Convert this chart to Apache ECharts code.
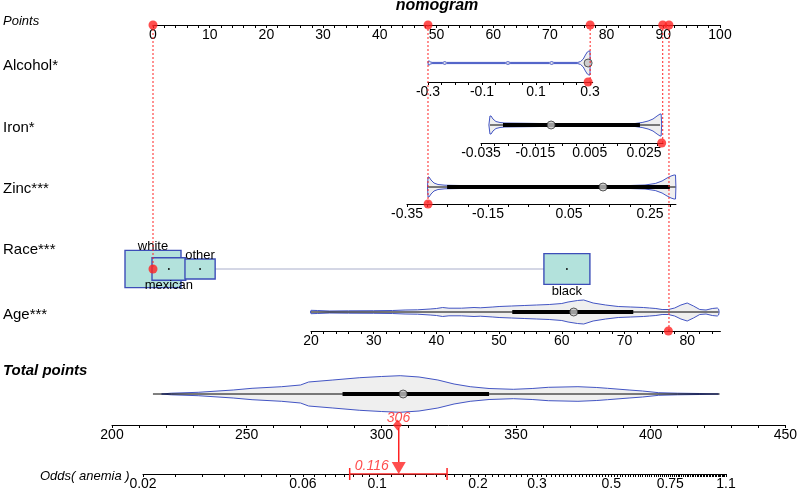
<!DOCTYPE html>
<html><head><meta charset="utf-8">
<script src="https://cdn.jsdelivr.net/npm/echarts@6/dist/echarts.min.js"></script>
<style>html,body{margin:0;padding:0;background:#fff}#c{width:800px;height:491px}</style>
</head><body><div id="c"></div>
<script>
// ================= DATA =================
const pointsLabels = [0,10,20,30,40,50,60,70,80,90,100];
const pointsTickStep = 2;
const alcoholLabels = [-0.3,-0.1,0.1,0.3];
const alcoholTickStep = 0.05;
const ironLabels = [-0.035,-0.015,0.005,0.025];
const ironTickStep = 0.005;
const zincLabels = [-0.35,-0.15,0.05,0.25];
const zincTickStep = 0.05;
const ageLabels = [20,30,40,50,60,70,80];
const ageTickStep = 2;
const totalLabels = [200,250,300,350,400,450];
const totalTickStep = 10;
const oddsLabels = [0.02,0.06,0.1,0.2,0.3,0.5,0.75,1.1];

// violin outlines: value and half-width (density)
const alcoholViolinX = [-0.300,-0.299,-0.296,-0.292,-0.285,-0.245,-0.238,-0.231,-0.012,-0.004,0.004,0.150,0.158,0.166,0.255,0.265,0.275,0.283,0.290,0.296,0.300,0.3005];
const alcoholViolinW = [0,2,2.2,1.2,0.6,0.6,1.4,0.6,0.6,1.4,0.6,0.6,1.4,0.6,0.6,1.5,4,8,11,12,12,0];
const alcoholBox = [0.293,0.293,0.293,0.293,0.293]; // min,q1,median,q3,max

const ironViolinX = [-0.0321,-0.0317,-0.0313,-0.0306,-0.0295,-0.0280,-0.0262,-0.0206,-0.0133,-0.0059,0.0014,0.0088,0.0162,0.0217,0.0243,0.0265,0.0283,0.0298,0.0309,0.0313,0.0315];
const ironViolinW = [0,9,9,6,3.5,2.5,2,1.8,1.5,1.5,1.3,1.3,1.3,1.5,2.5,4,6,9,11,11,0];
const ironBox = [-0.0317,-0.0269,-0.0092,0.0235,0.0309];

const zincViolinX = [-0.2994,-0.2981,-0.2957,-0.2907,-0.2833,-0.2735,-0.2562,-0.2191,-0.1204,0.0031,0.1265,0.2006,0.2377,0.2630,0.2798,0.2921,0.3020,0.3094,0.3130,0.3140];
const zincViolinW = [0,10,10,7,4,2.5,1.8,1.5,1.2,1.2,1.2,1.5,2,3.5,6,9,11,12,12,0];
const zincBox = [-0.298,-0.251,0.134,0.299,0.313];

const ageViolinX = [19.9,20,21,23,26,30,33,35,37,39,40,41,42,44,46,47,49,50,52,54,56,58,60,61,62.5,63.5,65,67,69,71,73,74,75,76,77,78,79,80,81,82,83,84,84.8,85,85.1];
const ageViolinW = [0,1.7,1.5,1,1.2,1.3,1.5,2,2.2,3,3.5,4.5,3.8,3.8,4.5,4.2,5,5.5,6,6.5,7,7.5,8.5,10,11.5,12,9,7,5.5,5,4.5,4,3.5,2.5,2.5,4,7,9,6,2.5,2,3.5,4,3,0];
const ageBox = [20,52.1,61.9,71.4,85];

const totalViolinX = [218.4,222,232,245,252,263,270,273,282,292,300,307,314,321,327,333,340,349,356,362,373,380,384,392,397,403,410,418,425.2];
const totalViolinW = [0,0.8,1.7,4,5.7,7.3,9,12,14,16.3,17.5,18.3,17,14,10,7.3,5.5,4.7,5.5,6.7,7.3,6.5,5.7,4,3,1.3,0.8,0.5,0];
const totalBox = [215.2,285.6,308.1,340,425.6];

const raceCategories = ['white','mexican','other','black'];
const racePoints = [0,2.8,8.3,73];
const raceShare = [0.43,0.156,0.125,0.29];

// selected observation
const selAlcohol = 0.293, selIron = 0.0315, selZinc = -0.298, selRace = 'white', selAge = 77;
const selPoints = {alcohol:77.1, iron:89.9, zinc:48.5, race:0, age:91.0};
const totalScore = 306;
const oddsValue = 0.116;
const oddsCI = [0.0828,0.1617];

// ================= LAYOUT / STYLE =================
const FONT = "'Liberation Sans', Arial, sans-serif";
const RED = '#ff2222';
const BLUE = '#4355c4';
const ROW = {points:25, alcohol:82, iron:143, zinc:204, race:269, age:331, total:425, odds:474};
const CENTER = {alcohol:63, iron:125, zinc:187, race:269, age:312, total:394};

function range(a,b,s){const r=[];const n=Math.round((b-a)/s);for(let i=0;i<=n;i++)r.push(+(a+i*s).toFixed(6));return r;}
function nearestFmt(labels, conv){return function(v){let best=labels[0],bd=Infinity;labels.forEach(l=>{const d=Math.abs((conv?conv(l):l)-v);if(d<bd){bd=d;best=l;}});return String(best);};}

const grids=[], xAxes=[], yAxes=[], series=[];
function addGrid(left,width,top,height,xOpt,yMin,yMax,yInv){
  const i=grids.length;
  grids.push({left:left,top:top,width:width,height:height});
  xAxes.push(Object.assign({gridIndex:i,type:'value',position:'bottom'},xOpt));
  yAxes.push({gridIndex:i,type:'value',min:yMin,max:yMax,show:false,inverse:!!yInv});
  return i;
}
function axisOpt(min,max,ticks,labels,conv){
  return {min:min,max:max,show:true,
    axisLine:{show:true,onZero:false,lineStyle:{color:'#000',width:1}},
    axisTick:{show:true,length:3,inside:false,lineStyle:{color:'#000',width:1},customValues:ticks},
    axisLabel:{show:true,margin:3,fontSize:14,color:'#000',fontFamily:FONT,customValues:conv?labels.map(conv):labels,
      formatter:nearestFmt(labels,conv),hideOverlap:false},
    splitLine:{show:false}};
}
function hiddenAxis(min,max){return {min:min,max:max,show:false,splitLine:{show:false}};}

function violin(gi,xs,ws,z){
  series.push({type:'custom',xAxisIndex:gi,yAxisIndex:gi,data:[[xs[0],0]],silent:true,z:z||2,clip:false,
    renderItem:function(p,api){
      const pts=[];
      for(let i=0;i<xs.length;i++)pts.push(api.coord([xs[i],ws[i]]));
      for(let i=xs.length-1;i>=0;i--)pts.push(api.coord([xs[i],-ws[i]]));
      return {type:'polygon',shape:{points:pts},style:{fill:'#efefef',stroke:BLUE,lineWidth:1}};
    }});
}
function box(gi,b,showLines){
  if(showLines){
    series.push({type:'line',xAxisIndex:gi,yAxisIndex:gi,data:[[b[0],0],[b[4],0]],symbol:'none',silent:true,z:3,lineStyle:{color:'#000',width:1}});
    series.push({type:'line',xAxisIndex:gi,yAxisIndex:gi,data:[[b[1],0],[b[3],0]],symbol:'none',silent:true,z:4,lineStyle:{color:'#000',width:4}});
  }
  series.push({type:'scatter',xAxisIndex:gi,yAxisIndex:gi,data:[[b[2],0]],symbol:'circle',symbolSize:8,silent:true,z:5,
    itemStyle:{color:'#c4c4c4',borderColor:'#333',borderWidth:1}});
}
function redDot(gi,x,y){
  series.push({type:'scatter',xAxisIndex:gi,yAxisIndex:gi,data:[[x,y||0]],symbol:'circle',symbolSize:9,silent:true,z:10,
    itemStyle:{color:RED}});
}

// Points axis
const gPoints = addGrid(153,567,5,20,axisOpt(0,100,range(0,100,pointsTickStep),pointsLabels),0,20);
// Alcohol
const gAlc = addGrid(428,0.61*270,CENTER.alcohol-22,ROW.alcohol-CENTER.alcohol+22,
  axisOpt(-0.3,0.31,range(-0.3,0.3,alcoholTickStep),alcoholLabels),-(ROW.alcohol-CENTER.alcohol),22);
// Iron
const gIron = addGrid(481,0.067*2717,CENTER.iron-22,ROW.iron-CENTER.iron+22,
  axisOpt(-0.035,0.032,range(-0.035,0.03,ironTickStep),ironLabels),-(ROW.iron-CENTER.iron),22);
// Zinc
const gZinc = addGrid(407,0.664*405,CENTER.zinc-22,ROW.zinc-CENTER.zinc+22,
  axisOpt(-0.35,0.314,range(-0.35,0.30,zincTickStep),zincLabels),-(ROW.zinc-CENTER.zinc),22);
// Race (points scale, no axis)
const gRace = addGrid(153,567,CENTER.race-30,60,hiddenAxis(0,100),-30,30);
// Age
const gAge = addGrid(311,65.3*6.27,CENTER.age-22,ROW.age-CENTER.age+22,
  axisOpt(20,85.3,range(20,84,ageTickStep),ageLabels),-(ROW.age-CENTER.age),22);
// Total points
const gTotal = addGrid(112,675,CENTER.total-22,ROW.total-CENTER.total+22,
  axisOpt(200,450,range(200,450,totalTickStep),totalLabels),-(ROW.total-CENTER.total),22);
// Odds (log scale)
const oddsTicks = range(0.02,0.1,0.005).concat(range(0.11,1.1,0.01));
const gOdds = addGrid(143,583,ROW.total,ROW.odds-ROW.total,
  axisOpt(Math.log(0.02),Math.log(1.1),oddsTicks.map(Math.log),oddsLabels,Math.log),0,ROW.odds-ROW.total);
// overlay (points x, pixel rows y)
const gOver = addGrid(153,567,0,491,hiddenAxis(0,100),0,491,true);

// violins + boxes
violin(gAlc,alcoholViolinX,alcoholViolinW); box(gAlc,alcoholBox,false);
violin(gIron,ironViolinX,ironViolinW); box(gIron,ironBox,true);
violin(gZinc,zincViolinX,zincViolinW); box(gZinc,zincBox,true);
violin(gAge,ageViolinX,ageViolinW); box(gAge,ageBox,true);
violin(gTotal,totalViolinX,totalViolinW); box(gTotal,totalBox,true);

// race
series.push({type:'line',xAxisIndex:gRace,yAxisIndex:gRace,data:[[Math.min.apply(null,racePoints),0],[Math.max.apply(null,racePoints),0]],
  symbol:'none',silent:true,z:2,lineStyle:{color:'#a9aecb',width:1}});
const raceLabelPos = {white:'top',mexican:'bottom',other:'top',black:'bottom'};
series.push({type:'custom',xAxisIndex:gRace,yAxisIndex:gRace,silent:true,z:3,clip:false,
  data:raceCategories.map((c,i)=>[racePoints[i],raceShare[i],i]),
  renderItem:function(p,api){
    const i=api.value(2), name=raceCategories[i];
    const c=api.coord([api.value(0),0]);
    const w=Math.sqrt(api.value(1))*85.4, h=w/1.5;
    const top=raceLabelPos[name]==='top';
    return {type:'group',children:[
      {type:'rect',shape:{x:c[0]-w/2,y:c[1]-h/2,width:w,height:h},style:{fill:'#b3e2dc',stroke:'#3d4eb8',lineWidth:1.4}},
      {type:'circle',shape:{cx:c[0],cy:c[1],r:0.9},style:{fill:'#000'}},
      {type:'text',x:c[0],y:top?c[1]-h/2+3:c[1]+h/2-(name==='mexican'?1:-1),
        style:{text:name,fill:'#000',font:'13px '+FONT,textAlign:'center',textVerticalAlign:top?'bottom':'top'},z2:20}
    ]};
  }});

// dashed connectors
const conn = [[selPoints.alcohol,ROW.alcohol],[selPoints.iron,ROW.iron],[selPoints.zinc,ROW.zinc],[selPoints.race,ROW.race],[selPoints.age,ROW.age]];
conn.forEach(cn=>{
  series.push({type:'line',xAxisIndex:gOver,yAxisIndex:gOver,data:[[cn[0],ROW.points],[cn[0],cn[1]]],symbol:'none',silent:true,z:8,
    lineStyle:{color:RED,width:1,type:[2,2]}});
  redDot(gPoints,cn[0],0);
});
redDot(gAlc,selAlcohol,-(ROW.alcohol-CENTER.alcohol));
redDot(gIron,selIron,-(ROW.iron-CENTER.iron));
redDot(gZinc,selZinc,-(ROW.zinc-CENTER.zinc));
redDot(gRace,racePoints[raceCategories.indexOf(selRace)],0);
redDot(gAge,selAge,-(ROW.age-CENTER.age));

// total marker
series.push({type:'scatter',xAxisIndex:gTotal,yAxisIndex:gTotal,data:[[totalScore,-(ROW.total-CENTER.total)]],symbol:'diamond',symbolSize:[9,11],
  silent:true,z:10,itemStyle:{color:RED},
  label:{show:true,position:'top',distance:0,offset:[1,6],formatter:String(totalScore),color:RED,fontStyle:'italic',fontSize:14,fontFamily:FONT}});
// odds arrow and CI
const lo=Math.log(oddsValue);
series.push({type:'line',xAxisIndex:gOdds,yAxisIndex:gOdds,data:[[lo,ROW.odds-ROW.total-3],[lo,12]],symbol:'none',silent:true,z:9,
  lineStyle:{color:RED,width:1.5}});
series.push({type:'scatter',xAxisIndex:gOdds,yAxisIndex:gOdds,data:[[lo,6]],symbol:'triangle',symbolRotate:180,symbolSize:[14,12],
  silent:true,z:10,itemStyle:{color:RED},
  label:{show:true,position:'left',distance:3,offset:[0,-2],formatter:String(oddsValue),color:RED,fontStyle:'italic',fontSize:14,fontFamily:FONT}});
series.push({type:'line',xAxisIndex:gOdds,yAxisIndex:gOdds,data:oddsCI.map(v=>[Math.log(v),0]),symbol:'rect',symbolSize:[1.5,12],silent:true,z:9,
  itemStyle:{color:RED},lineStyle:{color:RED,width:1.5}});

// texts
function txt(x,y,s,size,style,weight,align){
  return {type:'text',x:x,y:y,silent:true,style:{text:s,font:(style||'normal')+' '+(weight||'normal')+' '+size+'px '+FONT,fill:'#000',
    textAlign:align||'left',textVerticalAlign:'middle'}};
}
const graphics=[
  txt(437,6,'nomogram',16,'italic','bold','center'),
  txt(3,21,'Points',13,'italic'),
  txt(3,66,'Alcohol*',15),
  txt(3,128,'Iron*',15),
  txt(3,189,'Zinc***',15),
  txt(3,250,'Race***',15),
  txt(3,315,'Age***',15),
  txt(3,371,'Total points',15,'italic','bold'),
  txt(40,476,'Odds( anemia )',13,'italic')
];

const chart = echarts.init(document.getElementById('c'),null,{renderer:'canvas',width:800,height:491});
chart.setOption({animation:false,backgroundColor:'#fff',grid:grids,xAxis:xAxes,yAxis:yAxes,series:series,graphic:graphics});
</script></body></html>
